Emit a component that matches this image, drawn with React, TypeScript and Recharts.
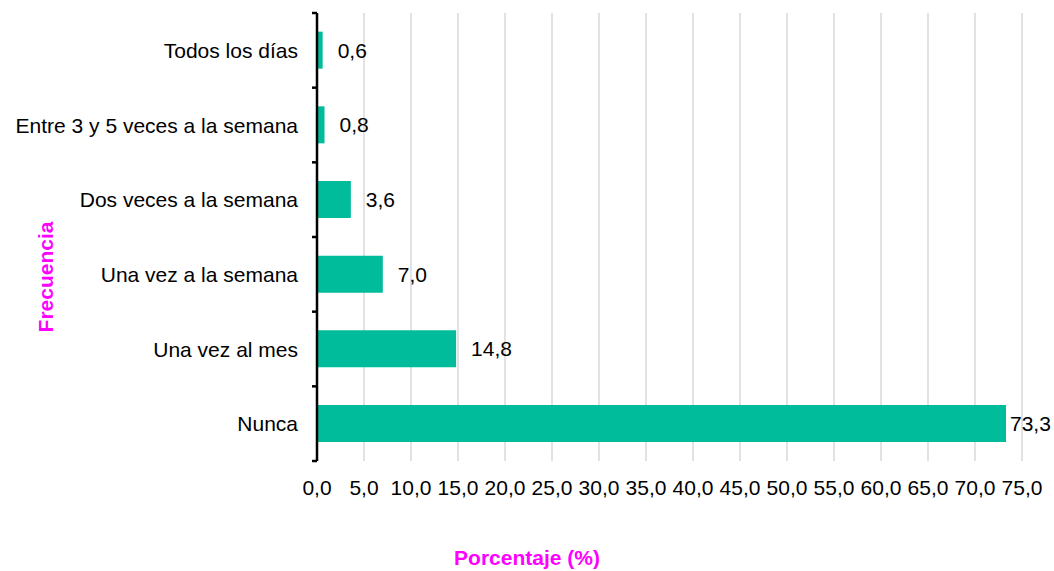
import { Bar, BarChart, CartesianGrid, LabelList, XAxis, YAxis } from 'recharts'

const categories = [
  'Todos los días',
  'Entre 3 y 5 veces a la semana',
  'Dos veces a la semana',
  'Una vez a la semana',
  'Una vez al mes',
  'Nunca',
]
const percentages = [0.6, 0.8, 3.6, 7.0, 14.8, 73.3]
const xTicks = [0, 5, 10, 15, 20, 25, 30, 35, 40, 45, 50, 55, 60, 65, 70, 75]

const data = categories.map((name, i) => ({ name, value: percentages[i] }))

const WIDTH = 1054
const HEIGHT = 571
const MARGIN = { top: 13, right: 32, left: 0, bottom: 14 }
const X_AXIS_HEIGHT = 96
const Y_AXIS_WIDTH = 317
const TICK_SIZE = 5
const TICK_MARGIN = 14
const FONT_SIZE = 21
const FONT = '"Liberation Sans", Arial, sans-serif'
const MAGENTA = '#FF00FF'

const plotHeight = HEIGHT - MARGIN.top - MARGIN.bottom - X_AXIS_HEIGHT
const band = plotHeight / categories.length

const fmt = (v: number) => v.toFixed(1).replace('.', ',')

function CategoryTick(props: any) {
  const { x, y, payload, index } = props
  const lineX2 = x + TICK_MARGIN + TICK_SIZE
  const lineX1 = lineX2 - TICK_SIZE
  return (
    <g>
      <text x={x} y={y} dy="0.36em" textAnchor="end" fontSize={FONT_SIZE} fill="#000" fontFamily={FONT}>
        {payload.value}
      </text>
      <line x1={lineX1} x2={lineX2} y1={y - band / 2} y2={y - band / 2} stroke="#000" strokeWidth={2.5} />
      {index === categories.length - 1 && (
        <line x1={lineX1} x2={lineX2} y1={y + band / 2} y2={y + band / 2} stroke="#000" strokeWidth={2.5} />
      )}
    </g>
  )
}

function ValueLabel(props: any) {
  const { x, y, width, height, value } = props
  // keep the last label inside the frame, as the original does
  const tx = Math.min(x + width + 15, WIDTH - 44)
  return (
    <text x={tx} y={y + height / 2} dy="0.36em" fontSize={FONT_SIZE} fill="#000" fontFamily={FONT}>
      {fmt(Number(value))}
    </text>
  )
}

export default function App() {
  return (
    <div style={{ position: 'absolute', left: 0, top: 0 }}>
      <BarChart width={WIDTH} height={HEIGHT} data={data} layout="vertical" margin={MARGIN} barCategoryGap="25%">
        <CartesianGrid horizontal={false} stroke="#d9d9d9" strokeWidth={1.5} />
        <XAxis
          type="number"
          domain={[0, 75]}
          ticks={xTicks}
          interval={0}
          tickFormatter={fmt}
          axisLine={false}
          tickLine={false}
          height={X_AXIS_HEIGHT}
          tickMargin={13}
          tick={{ fill: '#000', fontSize: FONT_SIZE, fontFamily: FONT }}
          label={{
            content: () => (
              <text
                x={WIDTH / 2}
                y={557}
                dy="0.36em"
                textAnchor="middle"
                fontSize={FONT_SIZE}
                fontWeight="bold"
                fill={MAGENTA}
                fontFamily={FONT}
              >
                Porcentaje (%)
              </text>
            ),
          }}
        />
        <YAxis
          type="category"
          dataKey="name"
          width={Y_AXIS_WIDTH}
          interval={0}
          tickLine={false}
          tickSize={TICK_SIZE}
          tickMargin={TICK_MARGIN}
          axisLine={{ stroke: '#000', strokeWidth: 2.5 }}
          tick={<CategoryTick />}
          label={{
            content: () => (
              <text
                x={45}
                y={277}
                dy="0.36em"
                transform="rotate(-90, 45, 277)"
                textAnchor="middle"
                fontSize={FONT_SIZE}
                fontWeight="bold"
                fill={MAGENTA}
                fontFamily={FONT}
              >
                Frecuencia
              </text>
            ),
          }}
        />
        <Bar dataKey="value" fill="#00BC9A" isAnimationActive={false}>
          <LabelList dataKey="value" content={<ValueLabel />} />
        </Bar>
      </BarChart>
    </div>
  )
}
